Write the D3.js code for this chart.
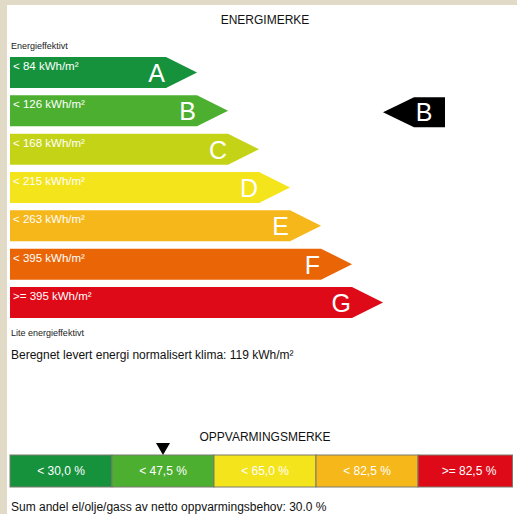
<!DOCTYPE html>
<html>
<head>
<meta charset="utf-8">
<script src="https://cdn.jsdelivr.net/npm/d3@7/dist/d3.min.js"></script>
<style>
  html, body { margin: 0; padding: 0; background: #e0dac6; }
  svg { display: block; font-family: "Liberation Sans", Arial, Helvetica, sans-serif; }
</style>
</head>
<body>
<svg id="chart" width="517" height="514"></svg>
<script>
// ---- data ----
const classes = ["A", "B", "C", "D", "E", "F", "G"];
const thresholds = ["< 84 kWh/m²", "< 126 kWh/m²", "< 168 kWh/m²", "< 215 kWh/m²", "< 263 kWh/m²", "< 395 kWh/m²", ">= 395 kWh/m²"];
const classColors = ["#16923d", "#4caf30", "#c5d317", "#f4e41b", "#f6b71a", "#ea6506", "#df0a17"];
const currentClass = "B";
const energyValue = "119 kWh/m²";

const heatingLabels = ["< 30,0 %", "< 47,5 %", "< 65,0 %", "< 82,5 %", ">= 82,5 %"];
const heatingColors = ["#16923d", "#4caf30", "#f4e41b", "#f6b71a", "#df0a17"];
const heatingMarkerIndex = 1;
const heatingShare = "30.0 %";

// ---- drawing ----
const svg = d3.select("#chart");
svg.append("rect").attr("x", 7).attr("y", 5).attr("width", 510).attr("height", 509).attr("fill", "#ffffff");

svg.append("text").attr("x", 265).attr("y", 24).attr("text-anchor", "middle")
  .attr("font-size", 12).attr("fill", "#111").text("ENERGIMERKE");
svg.append("text").attr("x", 11).attr("y", 49).attr("font-size", 9).attr("fill", "#222").text("Energieffektivt");

const y = d3.scaleBand().domain(classes).range([57, 318]).paddingInner(0.19).paddingOuter(0);
const len = d3.scaleLinear().domain([0, classes.length - 1]).range([156, 342]);
const x0 = 10;
const tip = y.bandwidth();

const g = svg.append("g");
classes.forEach((c, i) => {
  const top = y(c), h = y.bandwidth(), right = x0 + len(i);
  const path = d3.path();
  path.moveTo(x0, top);
  path.lineTo(right, top);
  path.lineTo(right + tip, top + h / 2);
  path.lineTo(right, top + h);
  path.lineTo(x0, top + h);
  path.closePath();
  g.append("path").attr("d", path.toString()).attr("fill", classColors[i]);
  g.append("text").attr("x", 13).attr("y", top + 13).attr("font-size", 11.5)
    .attr("fill", "#fff").text(thresholds[i]);
  g.append("text").attr("x", right - 1).attr("y", top + 25).attr("text-anchor", "end")
    .attr("font-size", 25).attr("fill", "#fff").text(c);
});

// current class indicator (left-pointing black arrow)
{
  const top = y(currentClass) + 2, h = y.bandwidth() - 1;
  const rightX = 445, leftRect = 414, tipX = 383;
  const p = d3.path();
  p.moveTo(rightX, top); p.lineTo(leftRect, top); p.lineTo(tipX, top + h / 2);
  p.lineTo(leftRect, top + h); p.lineTo(rightX, top + h); p.closePath();
  svg.append("path").attr("d", p.toString()).attr("fill", "#000");
  svg.append("text").attr("x", 424).attr("y", top + 24).attr("text-anchor", "middle")
    .attr("font-size", 25).attr("fill", "#fff").text(currentClass);
}

svg.append("text").attr("x", 11).attr("y", 336).attr("font-size", 9).attr("fill", "#222").text("Lite energieffektivt");
svg.append("text").attr("x", 11).attr("y", 359).attr("font-size", 12).attr("fill", "#111")
  .text("Beregnet levert energi normalisert klima: " + energyValue);

// heating mark
svg.append("text").attr("x", 265).attr("y", 441).attr("text-anchor", "middle")
  .attr("font-size", 12).attr("fill", "#111").text("OPPVARMINGSMERKE");

svg.append("clipPath").attr("id", "hclip").append("rect")
  .attr("x", 0).attr("y", 0).attr("width", 513).attr("height", 514);
const hg = svg.append("g").attr("clip-path", "url(#hclip)");
const hx = d3.scaleBand().domain(heatingLabels).range([10, 520]).padding(0);
const hTop = 455, hH = 32;
heatingLabels.forEach((l, i) => {
  hg.append("rect").attr("x", hx(l)).attr("y", hTop).attr("width", hx.bandwidth()).attr("height", hH)
    .attr("fill", heatingColors[i]).attr("stroke", "#7a7a6e").attr("stroke-width", 1);
  hg.append("text").attr("x", hx(l) + hx.bandwidth() / 2).attr("y", hTop + 20)
    .attr("text-anchor", "middle").attr("font-size", 12).attr("fill", "#fff").text(l);
});
// right edge border of the clipped bar
svg.append("line").attr("x1", 512.5).attr("x2", 512.5).attr("y1", hTop).attr("y2", hTop + hH)
  .attr("stroke", "#7a7a6e").attr("stroke-width", 1);
{
  const cx = hx(heatingLabels[heatingMarkerIndex]) + hx.bandwidth() / 2;
  svg.append("path").attr("d", `M${cx - 7},${hTop - 12} L${cx + 7},${hTop - 12} L${cx},${hTop} Z`).attr("fill", "#000");
}
svg.append("text").attr("x", 11).attr("y", 511).attr("font-size", 12).attr("fill", "#111")
  .text("Sum andel el/olje/gass av netto oppvarmingsbehov: " + heatingShare);
</script>
</body>
</html>
